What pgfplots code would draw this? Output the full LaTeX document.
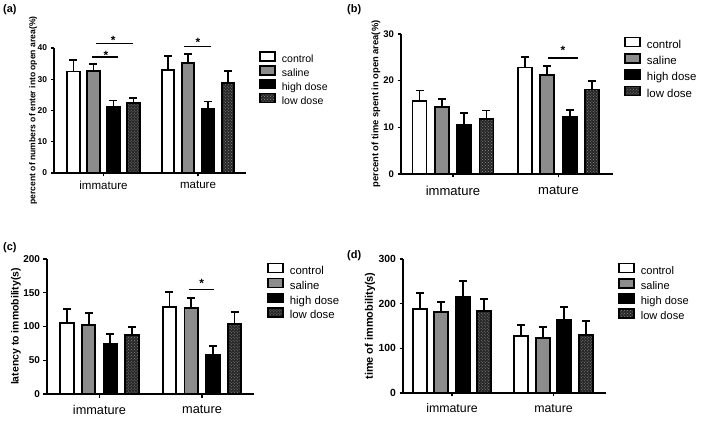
\documentclass[border=0pt]{standalone}
\usepackage{pgfplots}
\pgfplotsset{compat=1.18}
\usepackage{fontspec}
\setmainfont{Liberation Sans}
\usetikzlibrary{patterns}
\definecolor{salgray}{gray}{0.55}
\pgfplotsset{
 panel/.style={
  scale only axis, ymin=0, clip=false, enlargelimits=false,
  axis x line=bottom, axis y line=left,
  axis line style={-, line width=1.3bp},
  every tick/.style={black, line width=1.1bp},
  tick align=outside, major tick length=3.5bp,
  xtick={0,1}, xticklabels={immature,mature},
  ybar,
  /pgf/number format/assume math mode=true,
  legend cell align=left,
 },
 boxleg/.style={legend image code/.code={\draw[##1, line width=1.5bp] (0bp,-0.9bp) rectangle (15bp,8.1bp); \path (21bp,0bp);}},
 ctrl/.style={fill=white, draw=black, line width=1.8bp, boxleg},
 sal/.style={fill=salgray, draw=black, line width=1.8bp, boxleg},
 high/.style={fill=black, draw=black, line width=1.8bp, boxleg},
 low/.style={fill=black!85, draw=black, line width=1.8bp, boxleg, postaction={pattern=crosshatch dots, pattern color=white!55!black}},
 errs/.style={error bars/.cd, y dir=plus, y explicit, error bar style={line width=1.8bp, black}, error mark options={rotate=90, line width=1.8bp, mark size=4bp, black}},
}
\newcommand{\legfont}[1]{\fontsize{#1}{#1}\selectfont}
\begin{document}
\begin{tikzpicture}
\path[use as bounding box] (0,0) rectangle (709bp,427bp);
% ---------------- (a)
\begin{axis}[panel, at={(54bp,254bp)}, anchor=south west,
  width=192bp, height=125bp, xmin=-0.5238, xmax=1.508, ymax=40,
  ytick={0,10,20,30,40}, bar width=12.5bp, ybar=7.5bp,
  yticklabel style={font=\bfseries\legfont{8.5}},
  xticklabel style={font=\legfont{11.6}, yshift=-1.5bp},
  ylabel={percent of numbers of enter into open area(\%)},
  ylabel style={at={(axis description cs:-0.109,0.5)}, anchor=center, font=\bfseries\legfont{8.6}},
  legend style={draw=none, fill=none, inner sep=0pt, at={(axis description cs:1.0677,0.975)}, anchor=north west, row sep=-0.3bp, font=\legfont{10.6}, nodes={inner sep=0pt, text height=8bp, text depth=2.5bp}}]
\addplot[ctrl, errs] coordinates {(0,32.5) +- (0,3.7) (1,33.0) +- (0,4.4)};
\addplot[sal, errs] coordinates {(0,32.7) +- (0,2.3) (1,35.3) +- (0,2.7)};
\addplot[high, errs] coordinates {(0,21.0) +- (0,2.2) (1,20.4) +- (0,2.5)};
\addplot[low, errs] coordinates {(0,22.3) +- (0,1.7) (1,28.7) +- (0,3.9)};
\legend{control,saline,high dose,low dose}
\draw[line width=1.1bp] (axis cs:-0.1217,37.12) -- (axis cs:0.1534,37.12);
\node[anchor=base, inner sep=0, font=\bfseries\legfont{12}] at (axis cs:0.026,36.48) {*};
\draw[line width=1.1bp] (axis cs:-0.0794,41.5) -- (axis cs:0.312,41.5);
\node[anchor=base, inner sep=0, font=\bfseries\legfont{12}] at (axis cs:0.104,41.06) {*};
\draw[line width=1.1bp] (axis cs:0.857,40.48) -- (axis cs:1.134,40.48);
\node[anchor=base, inner sep=0, font=\bfseries\legfont{12}] at (axis cs:1.0,40.6) {*};
\end{axis}
% ---------------- (b)
\begin{axis}[panel, at={(401bp,253bp)}, anchor=south west,
  width=212bp, height=140bp, xmin=-0.4929, xmax=1.5166, ymax=30,
  ytick={0,10,20,30}, bar width=14bp, ybar=8.3bp,
  yticklabel style={font=\bfseries\legfont{9.6}},
  xticklabel style={font=\legfont{13.1}, yshift=-5bp},
  ylabel={percent of time spent in open area(\%)},
  ylabel style={at={(axis description cs:-0.118,0.5)}, anchor=center, font=\bfseries\legfont{9.4}},
  legend style={draw=none, fill=none, inner sep=0pt, at={(axis description cs:1.052,0.98)}, anchor=north west, row sep=2.1bp, font=\legfont{11.5}, nodes={inner sep=0pt, text height=8bp, text depth=2.5bp}}]
\addplot[ctrl, errs] coordinates {(0,15.6) +- (0,2.3) (1,22.8) +- (0,2.2)};
\addplot[sal, errs] coordinates {(0,14.3) +- (0,1.8) (1,21.2) +- (0,1.9)};
\addplot[high, errs] coordinates {(0,10.6) +- (0,2.4) (1,12.3) +- (0,1.4)};
\addplot[low, errs] coordinates {(0,11.7) +- (0,1.9) (1,18.1) +- (0,1.8)};
\legend{control,saline,high dose,low dose}
\draw[line width=1.1bp] (axis cs:0.900,24.86) -- (axis cs:1.185,24.86);
\node[anchor=base, inner sep=0, font=\bfseries\legfont{12}] at (axis cs:1.043,25.65) {*};
\end{axis}
% ---------------- (c)
\begin{axis}[panel, at={(47bp,33bp)}, anchor=south west,
  width=207bp, height=135bp, xmin=-0.512, xmax=1.507, ymax=200,
  ytick={0,50,100,150,200}, bar width=13.5bp, ybar=8.2bp,
  yticklabel style={font=\bfseries\legfont{10}},
  xticklabel style={font=\legfont{12.8}, yshift=-4bp},
  ylabel={latency to immobility(s)},
  ylabel style={at={(axis description cs:-0.150,0.5)}, anchor=center, font=\bfseries\legfont{10.5}},
  legend style={draw=none, fill=none, inner sep=0pt, at={(axis description cs:1.063,0.972)}, anchor=north west, row sep=0.7bp, font=\legfont{11.4}, nodes={inner sep=0pt, text height=8bp, text depth=2.5bp}}]
\addplot[ctrl, errs] coordinates {(0,104.7) +- (0,21.2) (1,129.4) +- (0,22.2)};
\addplot[sal, errs] coordinates {(0,102.2) +- (0,17.3) (1,127.0) +- (0,15.2)};
\addplot[high, errs] coordinates {(0,74.1) +- (0,14.8) (1,57.8) +- (0,12.8)};
\addplot[low, errs] coordinates {(0,87.4) +- (0,11.9) (1,103.7) +- (0,17.3)};
\legend{control,saline,high dose,low dose}
\draw[line width=1.1bp] (axis cs:0.873,155.1) -- (axis cs:1.120,155.1);
\node[anchor=base, inner sep=0, font=\bfseries\legfont{12}] at (axis cs:0.997,157.5) {*};
\end{axis}
% ---------------- (d)
\begin{axis}[panel, at={(403bp,34bp)}, anchor=south west,
  width=203bp, height=134bp, xmin=-0.483, xmax=1.517, ymax=300,
  ytick={0,100,200,300}, bar width=14bp, ybar=7.5bp,
  yticklabel style={font=\bfseries\legfont{10.4}},
  xticklabel style={font=\legfont{12.4}, yshift=-4bp},
  ylabel={time of immobility(s)},
  ylabel style={at={(axis description cs:-0.163,0.5)}, anchor=center, font=\bfseries\legfont{11}},
  legend style={draw=none, fill=none, inner sep=0pt, at={(axis description cs:1.059,0.972)}, anchor=north west, row sep=1.0bp, font=\legfont{11.1}, nodes={inner sep=0pt, text height=8bp, text depth=2.5bp}}]
\addplot[ctrl, errs] coordinates {(0,187.3) +- (0,35.9) (1,127.6) +- (0,25.4)};
\addplot[sal, errs] coordinates {(0,182.0) +- (0,21.7) (1,123.1) +- (0,25.4)};
\addplot[high, errs] coordinates {(0,214.2) +- (0,37.2) (1,164.1) +- (0,28.4)};
\addplot[low, errs] coordinates {(0,183.6) +- (0,27.6) (1,129.9) +- (0,31.3)};
\legend{control,saline,high dose,low dose}
\end{axis}
% panel letters
\node[anchor=north west, inner sep=0, font=\bfseries\legfont{11}] at (3bp,423bp) {(a)};
\node[anchor=north west, inner sep=0, font=\bfseries\legfont{11}] at (347bp,423bp) {(b)};
\node[anchor=north west, inner sep=0, font=\bfseries\legfont{11}] at (3bp,185bp) {(c)};
\node[anchor=north west, inner sep=0, font=\bfseries\legfont{11}] at (347bp,177bp) {(d)};
\end{tikzpicture}
\end{document}
